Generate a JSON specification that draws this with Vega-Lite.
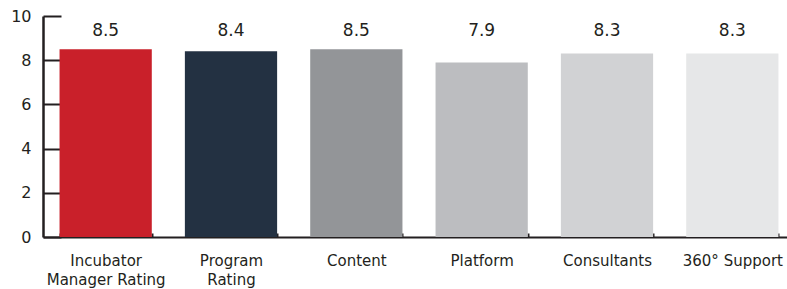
{
  "$schema": "https://vega.github.io/schema/vega-lite/v6.json",
  "autosize": {"type": "none"},
  "padding": {"left": 43, "top": 16, "right": 0, "bottom": 52},
  "width": 752,
  "height": 221,
  "background": "white",
  "data": {"values": [
    {"category": "Incubator Manager Rating", "score": 8.5, "label": "8.5"},
    {"category": "Program Rating", "score": 8.4, "label": "8.4"},
    {"category": "Content", "score": 8.5, "label": "8.5"},
    {"category": "Platform", "score": 7.9, "label": "7.9"},
    {"category": "Consultants", "score": 8.3, "label": "8.3"},
    {"category": "360° Support", "score": 8.3, "label": "8.3"}
  ]},
  "config": {
    "view": {"stroke": null},
    "font": "DejaVu Sans"
  },
  "encoding": {
    "x": {
      "field": "category", "type": "nominal", "sort": null,
      "scale": {"paddingInner": 0.264, "paddingOuter": 0.132},
      "axis": {
        "title": null, "labelAngle": 0, "labelFontSize": 15, "labelColor": "#231f20",
        "labelLineHeight": 19, "labelPadding": 20, "labelBaseline": "top",
        "labelExpr": "datum.label == 'Incubator Manager Rating' ? ['Incubator', 'Manager Rating'] : datum.label == 'Program Rating' ? ['Program', 'Rating'] : datum.label",
        "tickBand": "extent", "tickSize": -4, "tickWidth": 2, "tickColor": "#231f20",
        "domainColor": "#231f20", "domainWidth": 2, "grid": false
      }
    }
  },
  "layer": [
    {
      "mark": {"type": "bar"},
      "encoding": {
        "y": {
          "field": "score", "type": "quantitative",
          "scale": {"domain": [0, 10], "nice": false},
          "axis": {
            "title": null, "values": [0, 2, 4, 6, 8, 10], "grid": false,
            "labelFontSize": 16, "labelColor": "#231f20", "labelPadding": 30,
            "tickSize": -18, "tickWidth": 2, "tickColor": "#231f20",
            "domainColor": "#231f20", "domainWidth": 2.5
          }
        },
        "color": {
          "field": "category", "type": "nominal", "sort": null, "legend": null,
          "scale": {
            "domain": ["Incubator Manager Rating", "Program Rating", "Content", "Platform", "Consultants", "360° Support"],
            "range": ["#c9202a", "#233142", "#939598", "#bcbdc0", "#d1d2d4", "#e6e7e8"]
          }
        }
      }
    },
    {
      "mark": {"type": "text", "fontSize": 17, "color": "#231f20", "baseline": "middle"},
      "encoding": {
        "y": {"datum": 9.3, "type": "quantitative"},
        "text": {"field": "label"}
      }
    }
  ]
}
